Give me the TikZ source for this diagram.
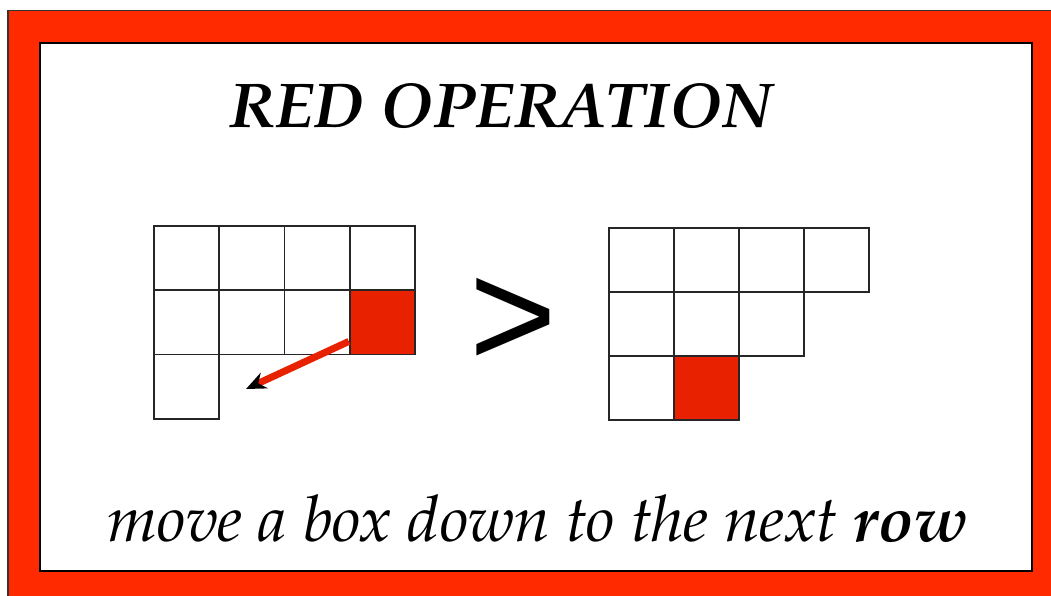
\documentclass[tikz,border=0pt]{standalone}
\usepackage{fontspec}
\setmainfont{TeX Gyre Pagella}
\newfontfamily\glyphfont{Liberation Sans}
\usetikzlibrary{arrows.meta,positioning}
\definecolor{framered}{HTML}{FF2A00}
\definecolor{boxred}{HTML}{E82200}

\begin{document}
\begin{tikzpicture}[
  x=1pt,
  y=-1pt,
  frame/.style={draw=black!80, line width=1.5pt, anchor=north west, inner sep=0pt},
  cell/.style={draw=black!85, line width=1.8pt, fill=white, anchor=north west,
    minimum width=65.3pt, minimum height=64.3pt, inner sep=0pt},
  marked/.style={cell, fill=boxred},
  move/.style={-{Stealth[black, length=20pt, width=17pt]}, line width=7pt, draw=boxred}
]
\useasboundingbox (0,0) rectangle (1051,596);
\fill[white] (0,0) rectangle (1051,596);

\node[frame, fill=framered, minimum width=1070pt, minimum height=610pt] (border) at (7,10) {};
\node[frame, draw=black, line width=2pt, fill=white, minimum width=992pt, minimum height=528pt] (panel) at (39,42) {};

\node[anchor=base] (title) at (501,128)
  {\resizebox{542pt}{44pt}{\bfseries\itshape RED OPERATION}};

% diagram before the move
\foreach \c in {0,...,3}
  \node[cell] (L0\c) at (153+\c*65.3,225) {};
\foreach \c in {0,...,2}
  \node[cell] (L1\c) at (153+\c*65.3,289.3) {};
\node[marked] (L13) at (348.9,289.3) {};
\node[cell] (L20) at (153,353.6) {};

% diagram after the move
\foreach \c in {0,...,3}
  \node[cell] (R0\c) at (608+\c*65,227) {};
\foreach \c in {0,...,2}
  \node[cell] (R1\c) at (608+\c*65,291) {};
\node[cell] (R20) at (608,355) {};
\node[marked] (R21) at (673,355) {};

\coordinate (tip) at (246,389);
\draw[move] ([yshift=14pt]L13.south west) -- (tip);

\node[font=\glyphfont\fontsize{150}{150}\selectfont, inner sep=0pt] (gt) at (513,323)
  {\scalebox{1}[1.02]{>}};

\node[anchor=base] (caption) at (538,541)
  {\resizebox{860pt}{47pt}{\itshape move a box down to the next \textbf{row}}};

\end{tikzpicture}
\end{document}
